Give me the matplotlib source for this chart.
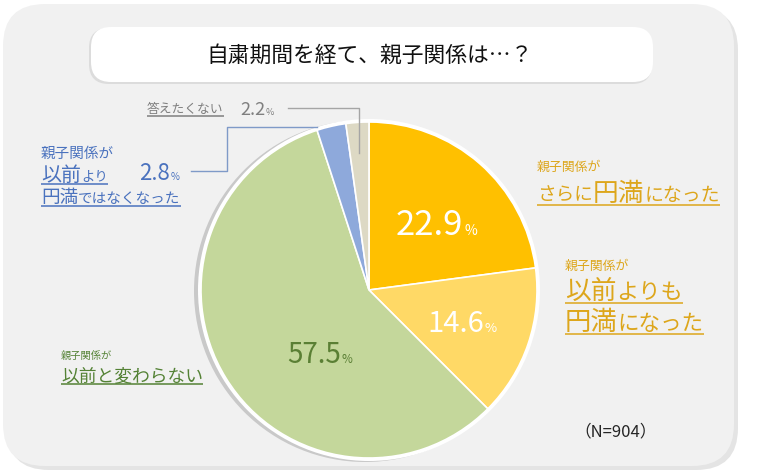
import matplotlib
matplotlib.use("Agg")
import matplotlib.pyplot as plt
from matplotlib.patches import FancyBboxPatch, Circle

FONT = ["Noto Sans CJK JP", "DejaVu Sans"]
plt.rcParams["font.family"] = FONT

# ---------------- data ----------------
categories = ["さらに円満になった", "以前よりも円満になった", "以前と変わらない",
              "以前より円満ではなくなった", "答えたくない"]
values = [22.9, 14.6, 57.5, 2.8, 2.2]
colors = ["#FFC000", "#FFD966", "#C4D79B", "#8EA9DB", "#DDD9C4"]
title = "自粛期間を経て、親子関係は…？"
n_label = "（N=904）"

W, H = 763, 476
fig = plt.figure(figsize=(W / 100, H / 100), dpi=100)
ax = fig.add_axes([0, 0, 1, 1])
fig.patch.set_facecolor("white")


def Y(y):
    return H - y


# background panel with soft shadow
ax.add_patch(FancyBboxPatch((7, Y(470)), 731, 462, boxstyle="round,pad=0,rounding_size=42",
                            fc="#E4E4E4", ec="none", zorder=0))
ax.add_patch(FancyBboxPatch((3, Y(466)), 731, 462, boxstyle="round,pad=0,rounding_size=42",
                            fc="#F1F1F1", ec="none", zorder=0.5))
# title box
ax.add_patch(FancyBboxPatch((89, Y(84)), 563, 56, boxstyle="round,pad=0,rounding_size=20",
                            fc="#DCDCDC", ec="none", zorder=1))
ax.add_patch(FancyBboxPatch((91, Y(82)), 562, 55, boxstyle="round,pad=0,rounding_size=20",
                            fc="white", ec="none", zorder=1.1))
ax.text(370, Y(56), title, fontsize=15.7, color="#111111", ha="center", va="center", zorder=2)

# pie
cx, cy, r = 369, 290, 168
ax.add_patch(Circle((cx - 4, Y(cy + 1)), r + 3, fc="#C9C9C9", ec="none", zorder=1))
ax.add_patch(Circle((cx, Y(cy)), r + 3, fc="white", ec="none", zorder=1.2))
wedges, _ = ax.pie(values, colors=colors, startangle=90, counterclock=False,
                   center=(cx, Y(cy)), radius=r,
                   wedgeprops=dict(edgecolor="white", linewidth=1.2, zorder=2))
for w in wedges:
    w.set_zorder(2)

ax.set_xlim(0, W)
ax.set_ylim(0, H)
ax.set_aspect("equal")
ax.axis("off")

renderer = fig.canvas.get_renderer()


def rich(x, y, parts, color, underline=True, ul_off=5, lw=1.1):
    cur = x
    for s, fs in parts:
        t = ax.text(cur, Y(y), s, fontsize=fs, color=color, ha="left", va="baseline", zorder=5)
        bb = t.get_window_extent(renderer=renderer)
        cur = bb.x1
    if underline:
        ax.plot([x, cur], [Y(y) - ul_off, Y(y) - ul_off], color=color, lw=lw, zorder=5,
                solid_capstyle="butt")
    return cur


def pct(x, y, num, fs, color, fs2):
    t = ax.text(x, Y(y), num, fontsize=fs, color=color, ha="left", va="baseline", zorder=5)
    bb = t.get_window_extent(renderer=renderer)
    ax.text(bb.x1 + 1, Y(y), "%", fontsize=fs2, color=color, ha="left", va="baseline", zorder=5)


GOLD = "#DDA61B"
GREEN = "#548235"
BLUE = "#4A72BE"
GRAY = "#7F7F7F"

# slice value labels
pct(396, 235, f"{values[0]}", 25, "white", 10)
pct(427, 332, f"{values[1]}", 21, "white", 9.5)
pct(287, 363, f"{values[2]}", 20, "#5A7F34", 8.5)

# gold top
rich(537, 171, [("親子関係が", 9.3)], GOLD, underline=False)
rich(537, 201, [("さらに", 13.4), ("円満", 18.5), ("になった", 13.6)], GOLD, ul_off=4)

# gold middle
rich(565, 270, [("親子関係が", 9.3)], GOLD, underline=False)
rich(565, 299, [("以前", 18.5), ("よりも", 16)], GOLD, ul_off=4)
rich(565, 330, [("円満", 19), ("になった", 15.5)], GOLD, ul_off=4)

# green
rich(61, 359, [("親子関係が", 7.4)], GREEN, underline=False)
rich(61, 381, [("以前と変わらない", 12.8)], GREEN, ul_off=3)

# blue
rich(41, 158, [("親子関係が", 10.5)], BLUE, underline=False)
rich(41, 181, [("以前", 14.4), ("より", 9.6)], BLUE, ul_off=3)
rich(41, 203, [("円満", 13.4), ("ではなくなった", 10.5)], BLUE, ul_off=3)
pct(139, 180, f"{values[3]}", 16, BLUE, 7)
ax.plot([191, 227, 227, 317], [Y(171), Y(171), Y(127), Y(127)], color="#7F9AC8", lw=1.0, zorder=5)

# gray
rich(147, 113, [("答えたくない", 9.2)], GRAY, ul_off=3)
pct(240, 115, f"{values[4]}", 13, GRAY, 6.5)
ax.plot([288, 359, 359], [Y(108), Y(108), Y(153)], color="#A5A5A5", lw=1.0, zorder=5)

# N
ax.text(574, Y(436), n_label, fontsize=12, color="#262626", ha="left", va="baseline", zorder=5)

fig.savefig("out.png", dpi=100, facecolor="white")
